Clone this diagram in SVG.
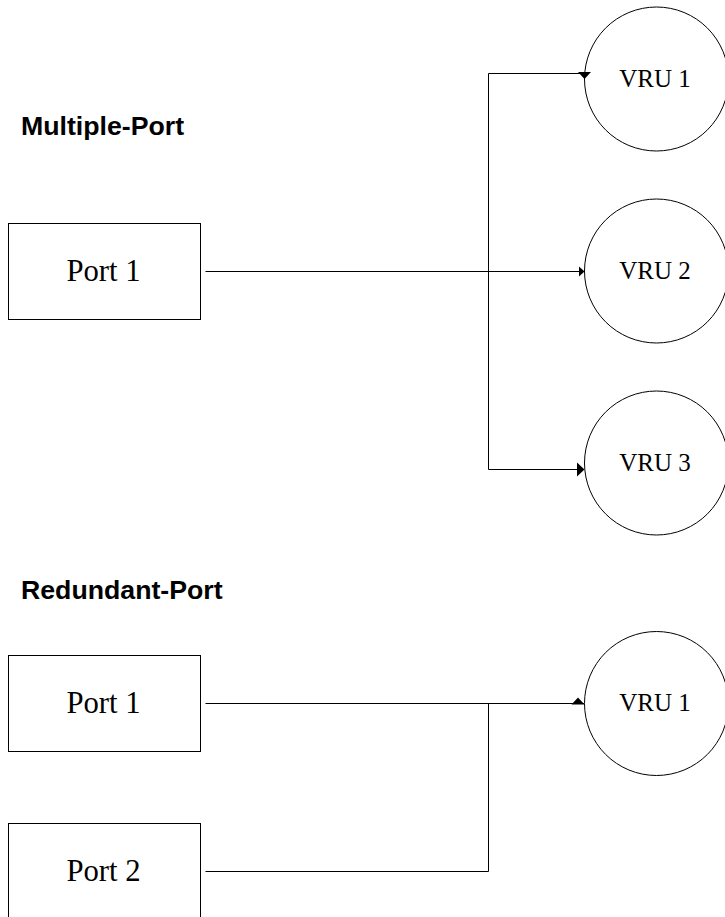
<svg xmlns="http://www.w3.org/2000/svg" width="725" height="917" viewBox="0 0 725 917">
<style>
.box{fill:#fff;stroke:#000;stroke-width:1}
.vru{fill:#fff;stroke:#000;stroke-width:1}
.lbl{font-family:"Liberation Serif","Times New Roman",serif;font-size:30.7px;fill:#000;text-anchor:middle}
.vl{font-family:"Liberation Serif","Times New Roman",serif;font-size:25px;fill:#000;text-anchor:middle}
.hd{font-family:"Liberation Sans",Arial,sans-serif;font-size:26.7px;font-weight:bold;fill:#000}
.ln{fill:none;stroke:#000;stroke-width:1}
.ah{fill:#000;stroke:none}
</style>
<rect width="725" height="917" fill="#fff"/>
<text class="hd" x="21" y="135">Multiple-Port</text>
<text class="hd" x="21" y="598.5">Redundant-Port</text>
<g id="port1a"><rect class="box" x="8.5" y="223.5" width="192" height="96"/><text class="lbl" x="103.5" y="281">Port 1</text></g>
<g id="port1b"><rect class="box" x="8.5" y="655.5" width="192" height="96"/><text class="lbl" x="103.5" y="713">Port 1</text></g>
<g id="port2"><rect class="box" x="8.5" y="823.5" width="192" height="96"/><text class="lbl" x="103.5" y="881">Port 2</text></g>
<g id="vru1a"><circle class="vru" cx="656.5" cy="79" r="72"/><text class="vl" x="655" y="87">VRU 1</text></g>
<g id="vru2"><circle class="vru" cx="656.5" cy="271" r="72"/><text class="vl" x="655" y="279">VRU 2</text></g>
<g id="vru3"><circle class="vru" cx="656.5" cy="463" r="72"/><text class="vl" x="655" y="471">VRU 3</text></g>
<g id="vru1b"><circle class="vru" cx="656.5" cy="703.5" r="72"/><text class="vl" x="655" y="711">VRU 1</text></g>
<g id="connectors">
<path class="ln" d="M205.5 271.5H584"/>
<path class="ln" d="M584 73.5H488.5V469.5H584"/>
<path class="ln" d="M205.5 703.5H584"/>
<path class="ln" d="M205.5 871.5H488.5V703.5"/>
<polygon class="ah" points="578,72 591,72 584.5,79"/>
<polygon class="ah" points="579,266.5 584.5,271.5 579,276.5"/>
<polygon class="ah" points="577,462.5 584.5,469.5 577,476.5"/>
<polygon class="ah" points="571.5,704.5 584.5,704.5 578,697.5"/>
</g>
</svg>
